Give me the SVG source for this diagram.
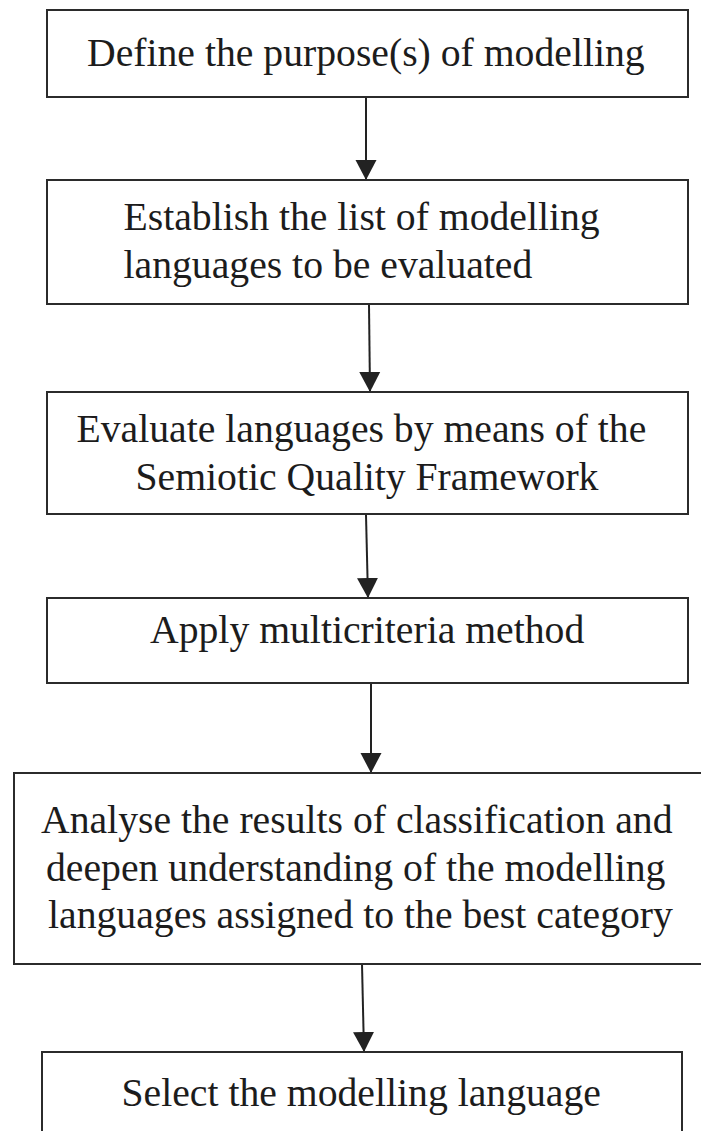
<svg xmlns="http://www.w3.org/2000/svg" width="701" height="1131" viewBox="0 0 701 1131">
<style>
.box{fill:#fff;stroke:#2b2b2b;stroke-width:2}
.t{font-family:"Liberation Serif","Times New Roman",serif;font-size:39.7px;fill:#1c1c1c}
.c{stroke:#222;stroke-width:2;fill:none;marker-end:url(#ah)}
</style>
<defs>
<marker id="ah" markerUnits="userSpaceOnUse" markerWidth="21" markerHeight="22" refX="20" refY="10.5" orient="auto" viewBox="0 0 21 21">
<path d="M0,0 L20,10.5 L0,21 z" fill="#222"/>
</marker>
</defs>
<rect width="701" height="1131" fill="#fff"/>
<g id="connectors">
<line class="c" x1="366" y1="97" x2="366" y2="180"/>
<line class="c" x1="369" y1="305" x2="370" y2="392"/>
<line class="c" x1="366" y1="515" x2="368" y2="598"/>
<line class="c" x1="371" y1="684" x2="371" y2="773"/>
<line class="c" x1="362" y1="964" x2="364" y2="1052"/>
</g>
<g id="n1">
<rect class="box" x="47" y="10" width="641" height="87"/>
<text class="t" x="87" y="66">Define the purpose(s) of modelling</text>
</g>
<g id="n2">
<rect class="box" x="47" y="180" width="641" height="124"/>
<text class="t" x="123.5" y="230">Establish the list of modelling</text>
<text class="t" x="123.5" y="278">languages to be evaluated</text>
</g>
<g id="n3">
<rect class="box" x="47" y="392" width="641" height="122"/>
<text class="t" x="76.5" y="442">Evaluate languages by means of the</text>
<text class="t" x="135.5" y="490">Semiotic Quality Framework</text>
</g>
<g id="n4">
<rect class="box" x="47" y="598" width="641" height="85"/>
<text class="t" x="150" y="643">Apply multicriteria method</text>
</g>
<g id="n5">
<rect class="box" x="14" y="773" width="700" height="191"/>
<text class="t" x="41" y="833">Analyse the results of classification and</text>
<text class="t" x="46" y="880.5">deepen understanding of the modelling</text>
<text class="t" x="48" y="928">languages assigned to the best category</text>
</g>
<g id="n6">
<rect class="box" x="42" y="1052" width="640" height="100"/>
<text class="t" x="121.5" y="1106">Select the modelling language</text>
</g>
</svg>
